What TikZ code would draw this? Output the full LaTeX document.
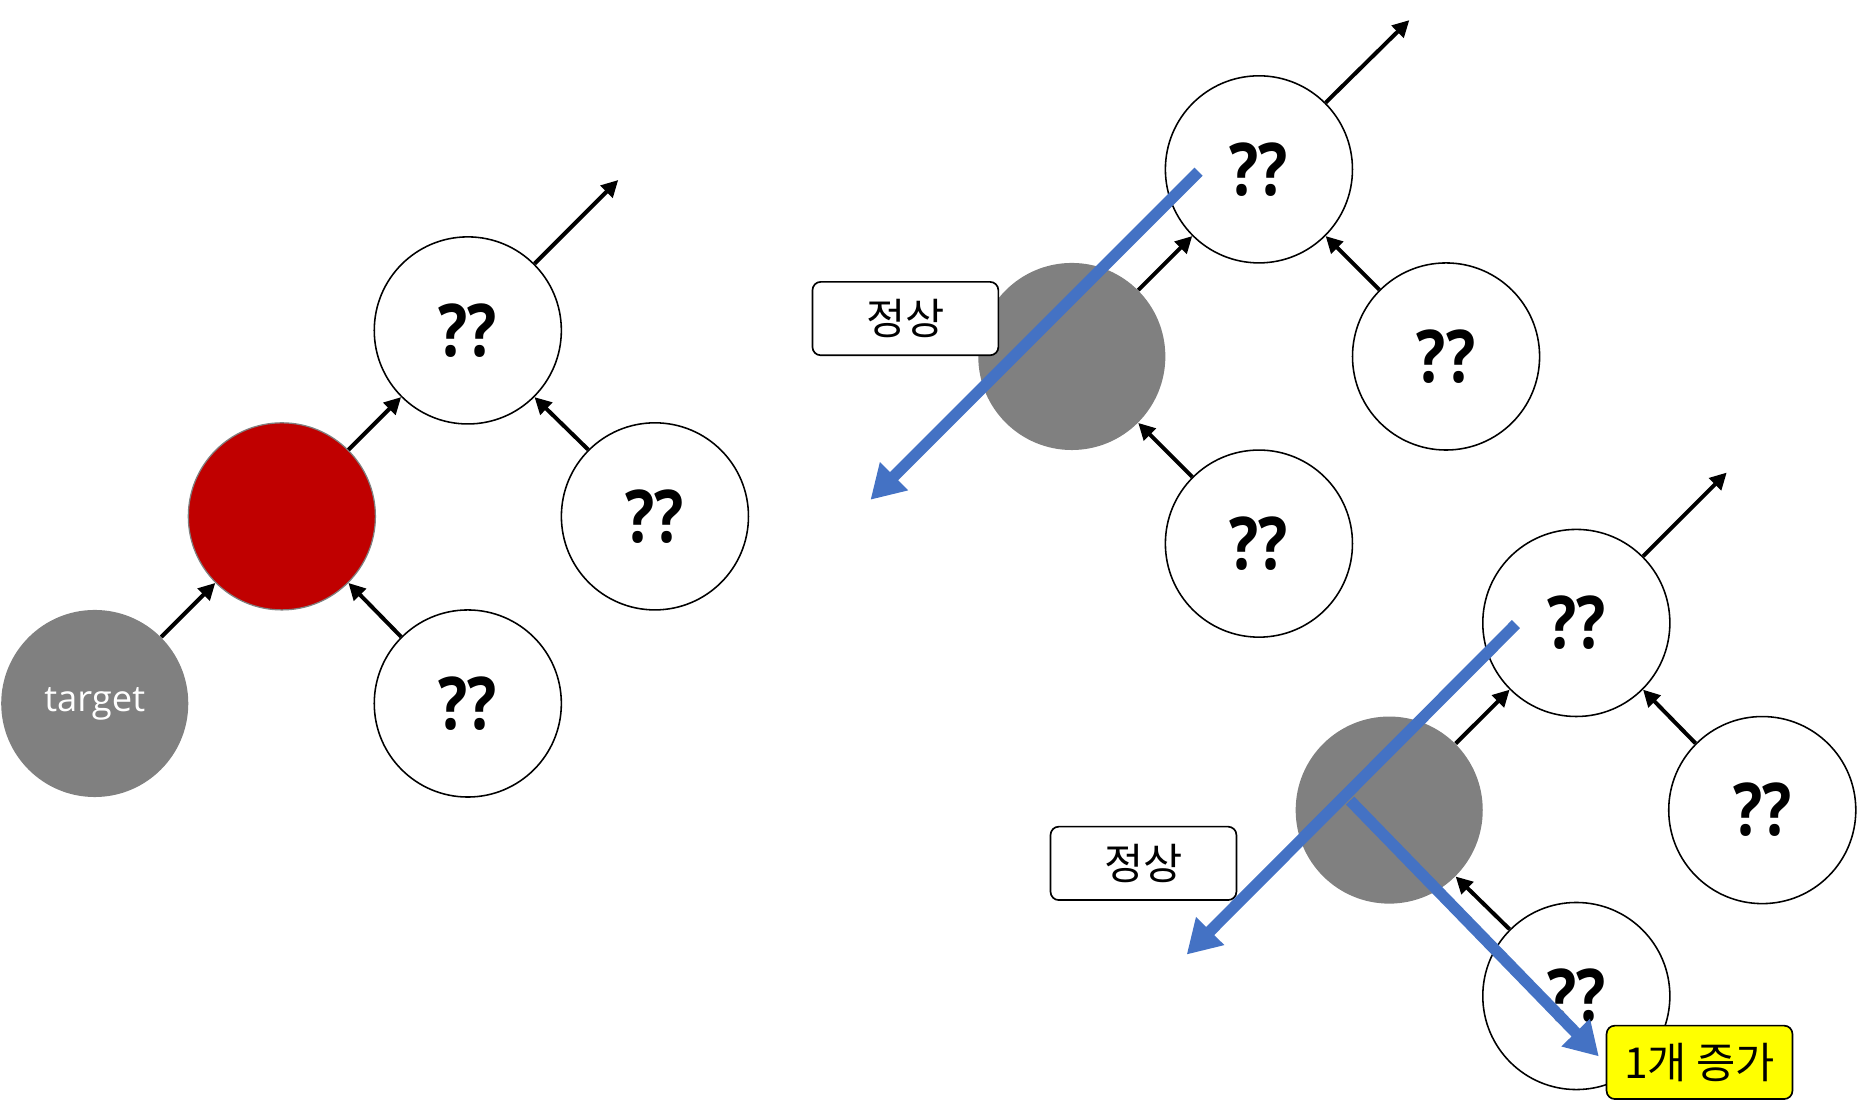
\documentclass[tikz,border=0pt]{standalone}
\usepackage{fontspec}
\setmainfont{Open Sans}
\newfontfamily\kr{Noto Sans CJK KR}
\newfontfamily\qfont[FakeStretch=0.84]{Open Sans}
\usetikzlibrary{arrows.meta}
\definecolor{nodegray}{RGB}{128,128,128}
\definecolor{darkred}{RGB}{192,0,0}
\definecolor{accblue}{RGB}{68,114,196}
\definecolor{hiyellow}{RGB}{255,255,0}
\begin{document}
\begin{tikzpicture}[x=0.02cm,y=-0.02cm,
  qnode/.style={circle, draw=black, line width=0.75pt, fill=white, minimum size=3.16cm, inner sep=0pt, font=\qfont\fontsize{35}{40}\selectfont\bfseries},
  graynode/.style={circle, fill=nodegray, minimum size=3.16cm, inner sep=0pt},
  rednode/.style={circle, fill=darkred, draw=nodegray, line width=0.6pt, minimum size=3.16cm, inner sep=0pt},
  link/.style={line width=1.9pt, -{Triangle[length=8pt,width=8pt]}},
  bluearrow/.style={draw=accblue, line width=5.5pt, -{Triangle[length=16pt,width=18pt]}},
  labelbox/.style={draw=black, line width=0.8pt, rounded corners=4pt, fill=white, minimum width=3.14cm, minimum height=1.24cm, inner sep=0pt, font=\kr\fontsize{20.5}{24}\selectfont},
  yellowbox/.style={labelbox, fill=hiyellow}
]
\useasboundingbox (0,0) rectangle (1568,936);

% ---------- left tree ----------
\node[graynode, text=white, font=\fontsize{17.5}{20}\selectfont] (target) at (80,594) {\raisebox{-3pt}{target}};
\node[rednode] (red) at (238,436) {};
\node[qnode] (lt) at (395,279) {??};
\node[qnode] (lr) at (553,436) {??};
\node[qnode] (lb) at (395,594) {??};
\coordinate (lout) at (522,152);
\draw[link] (target.45) -- (red.225);
\draw[link] (red.45) -- (lt.225);
\draw[link] (lr.135) -- (lt.315);
\draw[link] (lb.135) -- (red.315);
\draw[link] (lt.45) -- (lout);

% ---------- middle tree ----------
\node[qnode] (mt) at (1063,143) {??};
\node[graynode] (mg) at (905,301) {};
\node[qnode] (mr) at (1221,301) {??};
\node[qnode] (mb) at (1063,459) {??};
\coordinate (mout) at (1190,17);
\draw[link] (mg.45) -- (mt.225);
\draw[link] (mr.135) -- (mt.315);
\draw[link] (mb.135) -- (mg.315);
\draw[link] (mt.45) -- (mout);
\node[labelbox] (mbox) at (764.5,269) {정상};
\coordinate (ms) at (1012,145);
\coordinate (me) at (735,422);
\draw[bluearrow] (ms) -- (me);

% ---------- bottom-right tree ----------
\node[qnode] (rt) at (1331,526) {??};
\node[graynode] (rg) at (1173,684) {};
\node[qnode] (rr) at (1488,684) {??};
\node[qnode] (rb) at (1331,841) {??};
\coordinate (rout) at (1458,399);
\draw[link] (rg.45) -- (rt.225);
\draw[link] (rr.135) -- (rt.315);
\draw[link] (rb.135) -- (rg.315);
\draw[link] (rt.45) -- (rout);
\node[labelbox] (rbox) at (965.5,729) {정상};
\coordinate (rs1) at (1280,527);
\coordinate (re1) at (1002,806);
\coordinate (rs2) at (1140,676);
\coordinate (re2) at (1350,892);
\draw[bluearrow] (rs1) -- (re1);
\draw[bluearrow] (rs2) -- (re2);
\node[yellowbox] (ybox) at (1435,897) {1개 증가};
\end{tikzpicture}
\end{document}
